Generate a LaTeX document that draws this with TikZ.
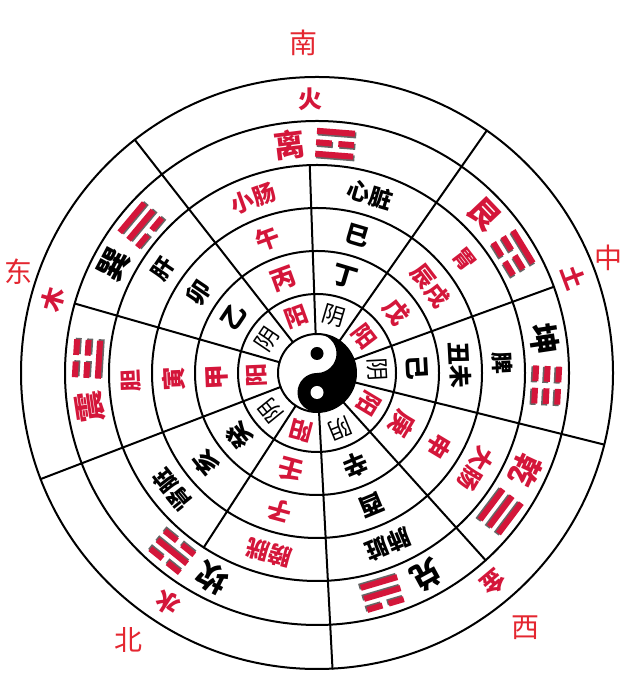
\documentclass[tikz,border=0pt]{standalone}
\usepackage{fontspec}
\setmainfont{Noto Sans CJK SC}
\definecolor{cr}{RGB}{212,22,58}
\definecolor{dr}{RGB}{228,38,48}
\tikzset{
 ring/.style={line width=2pt, line cap=round},
 base/.style={inner sep=0pt, outer sep=0pt},
 R/.style={text=cr}, K/.style={text=black},
 fb/.style={font=\bfseries\fontsize{#1}{#1}\selectfont},
 fr/.style={font=\fontsize{#1}{#1}\selectfont},
 trsh/.style={fill=black!60},
 trfill/.style={fill=cr},
}
\newcommand\rt[5]{\node[base,#4,rotate=#2-90] (#1) at (#2:#3) {#5};}
\newcommand\trbar[2]{%
 \ifnum#2=1
  \fill[trsh] (-18,#1-4.6) rectangle (20.5,#1+1.4);
  \fill[trfill] (-19,#1-3) rectangle (19,#1+3);
 \else
  \fill[trsh] (-18,#1-4.6) rectangle (-2,#1+1.4);
  \fill[trsh] (4.5,#1-4.6) rectangle (20.5,#1+1.4);
  \fill[trfill] (-19,#1-3) rectangle (-3.3,#1+3);
  \fill[trfill] (3.3,#1-3) rectangle (19,#1+3);
 \fi}
\newcommand\trig[5]{%
 \begin{scope}[shift={(#2:230)}, rotate=#2-90]
  \coordinate (#1) at (0,0);
  \trbar{-11.5}{#3}\trbar{0}{#4}\trbar{11.5}{#5}
 \end{scope}}
\begin{document}
\begin{tikzpicture}[x=1pt,y=1pt]
\useasboundingbox (0,0) rectangle (640,695);
\fill[white] (0,0) rectangle (640,695);
% direction labels
\node[base,fr=28,text=dr] (nan) at (303,652) {南};
\node[base,fr=28,text=dr] (dong) at (19,423) {东};
\node[base,fr=28,text=dr] (zhong) at (608,437) {中};
\node[base,fr=28,text=dr] (bei) at (128,55) {北};
\node[base,fr=28,text=dr] (xi) at (525,67) {西};
\begin{scope}[shift={(317,322)}]
 % yin-yang
 \fill[black] (0,39) arc[start angle=90,end angle=-90,radius=39]
   arc[start angle=-90,end angle=-270,radius=19.5]
   arc[start angle=-90,end angle=90,radius=19.5] -- cycle;
 \fill[black] (0,19.5) circle[radius=6.5];
 \fill[white] (0,-19.5) circle[radius=6.5];
 \draw[ring] (0,0) circle[radius=39];
 % rings
 \foreach \r in {79,122,165,208,252,296} \draw[ring] (0,0) circle[radius=\r];
 % radial dividers
 \foreach \a/\ro in {128/296, 92/208, 55/296, 20/252, -14/296, -48/252, -87/296, 237/208, 201/296, 164/252}
   \draw[ring] (\a:39) -- (\a:\ro);
 % yin-yang ring
 \rt{y1}{110}{60}{R,fb=23}{阳}
 \rt{y2}{73.5}{60}{K,fr=23}{阴}
 \rt{y3}{37.5}{60}{R,fb=23}{阳}
 \rt{y4}{3}{60}{K,fr=23}{阴}
 \rt{y5}{-31}{60}{R,fb=23}{阳}
 \rt{y6}{-67.5}{60}{K,fr=23}{阴}
 \rt{y7}{255}{60}{R,fb=23}{阳}
 \rt{y8}{219}{60}{K,fr=23}{阴}
 \rt{y9}{182.5}{60}{R,fb=23}{阳}
 \rt{y10}{146}{60}{K,fr=23}{阴}
 % stems
 \rt{s1}{110}{100}{R,fb=25}{丙}
 \rt{s2}{73.5}{100}{K,fb=25}{丁}
 \rt{s3}{37.5}{100}{R,fb=25}{戊}
 \rt{s4}{3}{100}{K,fb=25}{己}
 \rt{s5}{-31}{100}{R,fb=25}{庚}
 \rt{s6}{-67.5}{100}{K,fb=25}{辛}
 \rt{s7}{255}{100}{R,fb=25}{壬}
 \rt{s8}{219}{100}{K,fb=25}{癸}
 \rt{s9}{182.5}{100}{R,fb=25}{甲}
 \rt{s10}{146}{100}{K,fb=25}{乙}
 % branches
 \rt{b1}{110}{143}{R,fb=24}{午}
 \rt{b2}{73.5}{143}{K,fb=24}{巳}
 \rt{b3}{37.5}{143}{R,fb=23}{辰戌}
 \rt{b4}{3}{143}{K,fb=23}{丑未}
 \rt{b5}{-31}{143}{R,fb=24}{申}
 \rt{b6}{-67.5}{143}{K,fb=24}{酉}
 \rt{b7}{255}{143}{R,fb=24}{子}
 \rt{b8}{219}{143}{K,fb=24}{亥}
 \rt{b9}{182.5}{143}{R,fb=24}{寅}
 \rt{b10}{146}{143}{K,fb=24}{卯}
 % organs
 \rt{o1}{110}{186}{R,fb=23}{小肠}
 \rt{o2}{73.5}{186}{K,fb=23}{心脏}
 \rt{o3}{37.5}{186}{R,fb=22}{胃}
 \rt{o4}{3}{186}{K,fb=22}{脾}
 \rt{o5}{-31}{186}{R,fb=23}{大肠}
 \rt{o6}{-67.5}{186}{K,fb=23}{肺脏}
 \rt{o7}{255}{186}{R,fb=23}{膀胱}
 \rt{o8}{219}{186}{K,fb=23}{肾脏}
 \rt{o9}{182.5}{186}{R,fb=22}{胆}
 \rt{o10}{146}{186}{K,fb=22}{肝}
 % trigram names
 \rt{t1}{97}{230}{R,fb=31}{离}
 \rt{t2}{43.5}{230}{R,fb=31}{艮}
 \rt{t3}{8.5}{230}{K,fb=31}{坤}
 \rt{t4}{-25}{230}{R,fb=31}{乾}
 \rt{t5}{-61.5}{230}{K,fb=31}{兑}
 \rt{t6}{243}{230}{K,fb=31}{坎}
 \rt{t7}{188.5}{230}{R,fb=31}{震}
 \rt{t8}{152}{230}{K,fb=31}{巽}
 % trigram symbols (bottom, middle, top)
 \trig{g1}{85.5}{1}{0}{1}
 \trig{g2}{31.5}{0}{0}{1}
 \trig{g3}{-3}{0}{0}{0}
 \trig{g4}{-37}{1}{1}{1}
 \trig{g5}{-73.5}{1}{1}{0}
 \trig{g6}{231}{0}{1}{0}
 \trig{g7}{176.5}{1}{0}{0}
 \trig{g8}{140}{0}{1}{1}
 % elements
 \rt{e1}{91.5}{274}{R,fb=24}{火}
 \rt{e2}{20.5}{274}{R,fb=24}{土}
 \rt{e3}{-50}{274}{R,fb=24}{金}
 \rt{e4}{237}{274}{R,fb=24}{水}
 \rt{e5}{164.5}{274}{R,fb=24}{木}
\end{scope}
\end{tikzpicture}
\end{document}
